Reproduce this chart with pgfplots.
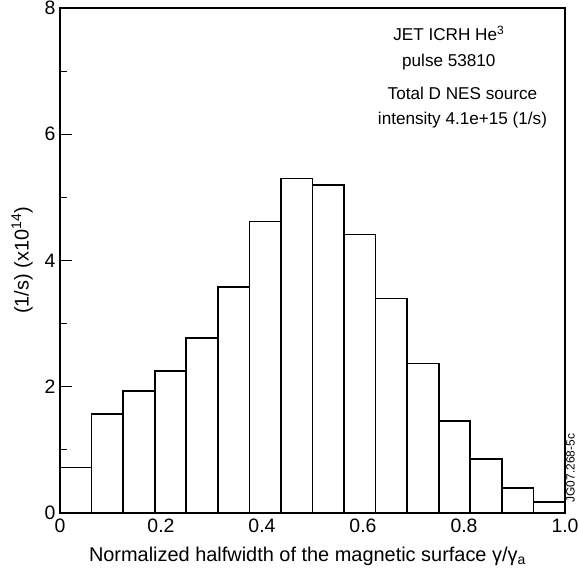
\documentclass[border=0pt]{standalone}
\usepackage{pgfplots}
\pgfplotsset{compat=1.18}
\usepackage{fontspec}
\setmainfont{Liberation Sans}
\begin{document}
\begin{tikzpicture}
\begin{axis}[
  scale only axis, width=505bp, height=505bp,
  xmin=0, xmax=1, ymin=0, ymax=8,
  clip=false,
  xtick={0,0.2,0.4,0.6,0.8,1.0},
  xticklabels={0,0.2,0.4,0.6,0.8,1.0},
  ytick={0,2,4,6,8},
  yticklabels={0,2,4,6,8},
  minor xtick={0.1,0.3,0.5,0.7,0.9},
  minor ytick={1,3,5,7},
  tick align=inside,
  xtick pos=bottom, ytick pos=left,
  major tick length=12bp, minor tick length=7bp,
  tick style={black, line width=1bp},
  axis line style={line width=1.2bp},
  ticklabel style={font=\fontsize{19.5}{23}\selectfont},
  xticklabel style={yshift=-2bp},
  yticklabel style={xshift=-1bp},
  /pgf/number format/assume math mode=true,
  xlabel={Normalized halfwidth of the magnetic surface γ/γ\textsubscript{a}},
  ylabel={(1/s) (x10\textsuperscript{14})},
  label style={font=\fontsize{20}{24}\selectfont},
  xlabel style={at={(axis description cs:0.49,-0.085)}, anchor=center},
  ylabel style={at={(axis description cs:-0.075,0.5)}, anchor=center},
]
\addplot[ybar interval, fill=white, draw=black, line width=1.7bp] coordinates {
  (0,0.72) (0.0625,1.57) (0.125,1.93) (0.1875,2.25) (0.25,2.77) (0.3125,3.58)
  (0.375,4.62) (0.4375,5.30) (0.5,5.20) (0.5625,4.41) (0.625,3.40) (0.6875,2.37)
  (0.75,1.46) (0.8125,0.85) (0.875,0.40) (0.9375,0.17) (1.0,0.17)
};
\node[align=center, font=\fontsize{17.2}{26}\selectfont] at (axis cs:0.77,7.37)
  {JET ICRH He\textsuperscript{3}\\pulse 53810};
\node[align=center, font=\fontsize{17.2}{25}\selectfont] at (axis cs:0.797,6.42)
  {Total D NES source\\intensity 4.1e+15 (1/s)};
\node[rotate=90, anchor=north, inner sep=1bp, font=\fontsize{12}{14}\selectfont] at (rel axis cs:1,0.085)
  [xshift=2bp] {JG07.268-5c};
\end{axis}
\pgfresetboundingbox
\path[use as bounding box] (-60bp,-65bp) rectangle (519bp,513bp);
\end{tikzpicture}
\end{document}
